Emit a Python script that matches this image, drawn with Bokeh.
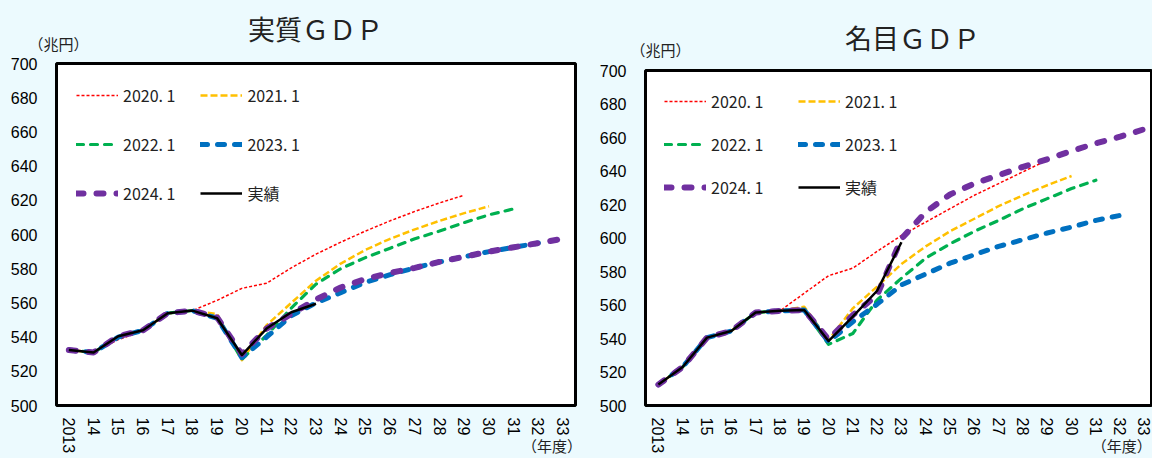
from bokeh.plotting import figure
from bokeh.models import FixedTicker, Legend, LegendItem, Range1d, LinearAxis
from bokeh.layouts import row, column
from bokeh.core.properties import value
from bokeh.embed import file_html
from bokeh.resources import INLINE

BG = "#ECFAFE"
FONT_JP = "Noto Sans CJK JP"
FONT_NUM = "Liberation Sans"

# ---------------- data ----------------
years = list(range(2013, 2034))
tick_labels = ["2013"] + [str(y % 100) for y in years[1:]]
y_ticks = list(range(500, 701, 20))

series_names = ["2020. 1", "2021. 1", "2022. 1", "2023. 1", "2024. 1", "実績"]
titles = ["実質ＧＤＰ", "名目ＧＤＰ"]
unit_text = "（兆円）"
year_unit_text = "（年度）"

# 実質GDP (兆円)
real_2020 = [532.5, 531.5, 538.5, 543.5, 553.5, 555.5, 561.5, 568.5, 571.5, 580.5,
             588.5, 595.5, 602.0, 608.0, 613.5, 618.5, 623.0]
real_2021 = [532.5, 531.0, 540.0, 544.0, 554.0, 555.5, 553.5, 526.5, 547.0, 560.0,
             573.0, 583.0, 591.0, 597.5, 603.0, 608.0, 612.5, 616.5]
real_2022 = [532.5, 531.0, 540.0, 544.0, 554.0, 555.5, 551.5, 527.0, 541.0, 557.0,
             571.0, 580.0, 586.5, 592.0, 597.5, 602.0, 607.0, 611.5, 615.0]
real_2023 = [532.5, 531.0, 540.0, 544.0, 554.0, 555.5, 551.0, 528.0, 540.0, 552.5,
             560.0, 566.0, 572.0, 576.5, 580.5, 584.0, 587.0, 590.0, 592.5, 595.0]
real_2024 = [532.5, 531.0, 540.5, 544.0, 554.0, 555.5, 551.5, 530.0, 545.0, 553.5,
             562.0, 569.0, 574.0, 577.5, 580.5, 584.0, 587.0, 590.0, 592.5, 595.0, 597.5]
real_actual = [532.5, 531.0, 540.5, 544.0, 554.0, 555.5, 551.0, 529.5, 545.0, 554.5, 559.5]

# 名目GDP (兆円)
nom_2020 = [512.5, 523.0, 540.5, 544.5, 555.5, 556.5, 567.0, 577.5, 582.0, 592.0,
            601.5, 609.5, 617.5, 625.5, 632.5, 639.5, 646.5]
nom_2021 = [512.5, 523.0, 540.5, 544.5, 555.5, 556.5, 559.0, 539.0, 558.0, 571.0,
            584.5, 595.0, 604.0, 611.5, 619.0, 625.5, 631.5, 637.0]
nom_2022 = [512.5, 523.0, 540.5, 544.5, 555.5, 556.5, 557.0, 536.5, 543.0, 563.0,
            576.0, 588.0, 596.5, 604.0, 610.5, 617.5, 623.5, 629.5, 634.5]
nom_2023 = [512.5, 523.0, 540.5, 544.5, 555.5, 556.5, 557.0, 538.0, 550.0, 560.5,
            572.0, 578.5, 585.0, 590.0, 595.0, 599.0, 603.0, 606.5, 610.5, 613.5]
nom_2024 = [512.5, 523.0, 540.5, 544.5, 555.5, 556.5, 557.0, 539.5, 554.0, 566.0,
            599.5, 615.5, 626.0, 632.5, 637.5, 642.5, 647.0, 652.0, 656.5, 660.5, 665.0]
nom_actual = [512.5, 523.0, 540.5, 544.5, 555.5, 556.5, 557.0, 538.5, 553.0, 568.5, 597.5]

real_series = [real_2020, real_2021, real_2022, real_2023, real_2024, real_actual]
nom_series = [nom_2020, nom_2021, nom_2022, nom_2023, nom_2024, nom_actual]

# ---------------- styles ----------------
styles = [
    dict(line_color="#FF0000", line_width=1.5, line_dash="3 2", line_cap="butt"),
    dict(line_color="#FFC000", line_width=2.5, line_dash="7 3", line_cap="butt"),
    dict(line_color="#00B050", line_width=3.2, line_dash="7 7", line_cap="round"),
    dict(line_color="#0070C0", line_width=5, line_dash="7 10", line_cap="round"),
    dict(line_color="#7030A0", line_width=6, line_dash="7 13", line_cap="round"),
    dict(line_color="#000000", line_width=2.5, line_dash="solid", line_cap="butt"),
]


def header(w, h, title, title_xy, unit_xy):
    p = figure(width=w, height=h, x_range=Range1d(0, w), y_range=Range1d(h, 0),
               output_backend="svg", toolbar_location=None, min_border=0,
               x_axis_location=None, y_axis_location=None)
    p.grid.visible = False
    p.outline_line_color = None
    p.background_fill_color = BG
    p.border_fill_color = BG
    p.text(x=[title_xy[0]], y=[title_xy[1]], text=[title], text_font=value(FONT_JP),
           text_font_size="27px", text_align="center", text_baseline="middle",
           text_color="#222222")
    p.text(x=[unit_xy[0]], y=[unit_xy[1]], text=[unit_text], text_font=value(FONT_JP),
           text_font_size="15px", text_align="center", text_baseline="middle",
           text_color="#222222")
    return p


def panel(series, w, h, bl, br, bt, bb, x_start, x_end, nendo_x,
          leg_margin, leg_spacing, label_w):
    p = figure(width=w, height=h, x_range=Range1d(x_start, x_end), y_range=Range1d(500, 700),
               output_backend="svg", toolbar_location=None,
               min_border_left=bl, min_border_right=br, min_border_top=bt, min_border_bottom=bb)
    p.background_fill_color = "white"
    p.border_fill_color = BG
    p.outline_line_color = "black"
    p.outline_line_width = 3
    p.grid.visible = False

    p.xaxis.ticker = FixedTicker(ticks=years)
    p.xaxis.major_label_overrides = {y: l for y, l in zip(years, tick_labels)}
    p.xaxis.major_label_orientation = "vertical"
    p.xaxis.major_label_standoff = 12
    p.yaxis.ticker = FixedTicker(ticks=y_ticks)
    p.yaxis.major_label_standoff = 19
    for ax in (p.xaxis[0], p.yaxis[0]):
        ax.axis_line_color = None
        ax.major_tick_line_color = None
        ax.minor_tick_line_color = None
        ax.major_tick_out = 0
        ax.minor_tick_out = 0
        ax.major_label_text_font = FONT_NUM
        ax.major_label_text_font_size = "16px"
        ax.major_label_text_color = "#000000"

    # second axis carrying only the （年度） note at the right end
    ax2 = LinearAxis(ticker=FixedTicker(ticks=[nendo_x]),
                     major_label_overrides={nendo_x: year_unit_text},
                     major_label_standoff=-22, major_tick_out=0, minor_tick_out=0,
                     axis_line_color=None,
                     major_tick_line_color=None, minor_tick_line_color=None,
                     major_label_text_font=FONT_JP, major_label_text_font_size="15px",
                     major_label_text_color="#222222")
    p.add_layout(ax2, "below")

    rends = []
    for vals, st in zip(series, styles):
        rends.append(p.line(years[:len(vals)], vals, line_join="round", **st))

    order = [0, 2, 4, 1, 3, 5]
    legend = Legend(items=[LegendItem(label=series_names[i], renderers=[rends[i]]) for i in order],
                    ncols=2, orientation="vertical", location="top_left",
                    background_fill_alpha=0, border_line_color=None, padding=0,
                    margin=leg_margin, spacing=leg_spacing, glyph_width=42,
                    glyph_height=24, label_height=24, label_width=label_w, label_standoff=5,
                    label_text_font=FONT_JP, label_text_font_size="16px",
                    label_text_color="#222222")
    p.add_layout(legend, "center")
    return p


h1 = header(584, 54, titles[0], (315, 28), (58, 43))
p1 = panel(real_series, 584, 404, 56, 9, 9, 53, 2012.5, 2033.5, 2032.75, 20, 25, 50)
h2 = header(568, 61, titles[1], (328, 37), (76, 49))
p2 = panel(nom_series, 568, 397, 61, 0, 9, 52, 2012.47, 2033.33, 2032.125, 19, 19, 68)

layout = row(column(row(h1), row(p1)), column(row(h2), row(p2)))
html = file_html(layout, INLINE)
html = html.replace("<head>", "<head><style>html,body{background-color:%s;}</style>" % BG, 1)
open("out.html", "w").write(html)
